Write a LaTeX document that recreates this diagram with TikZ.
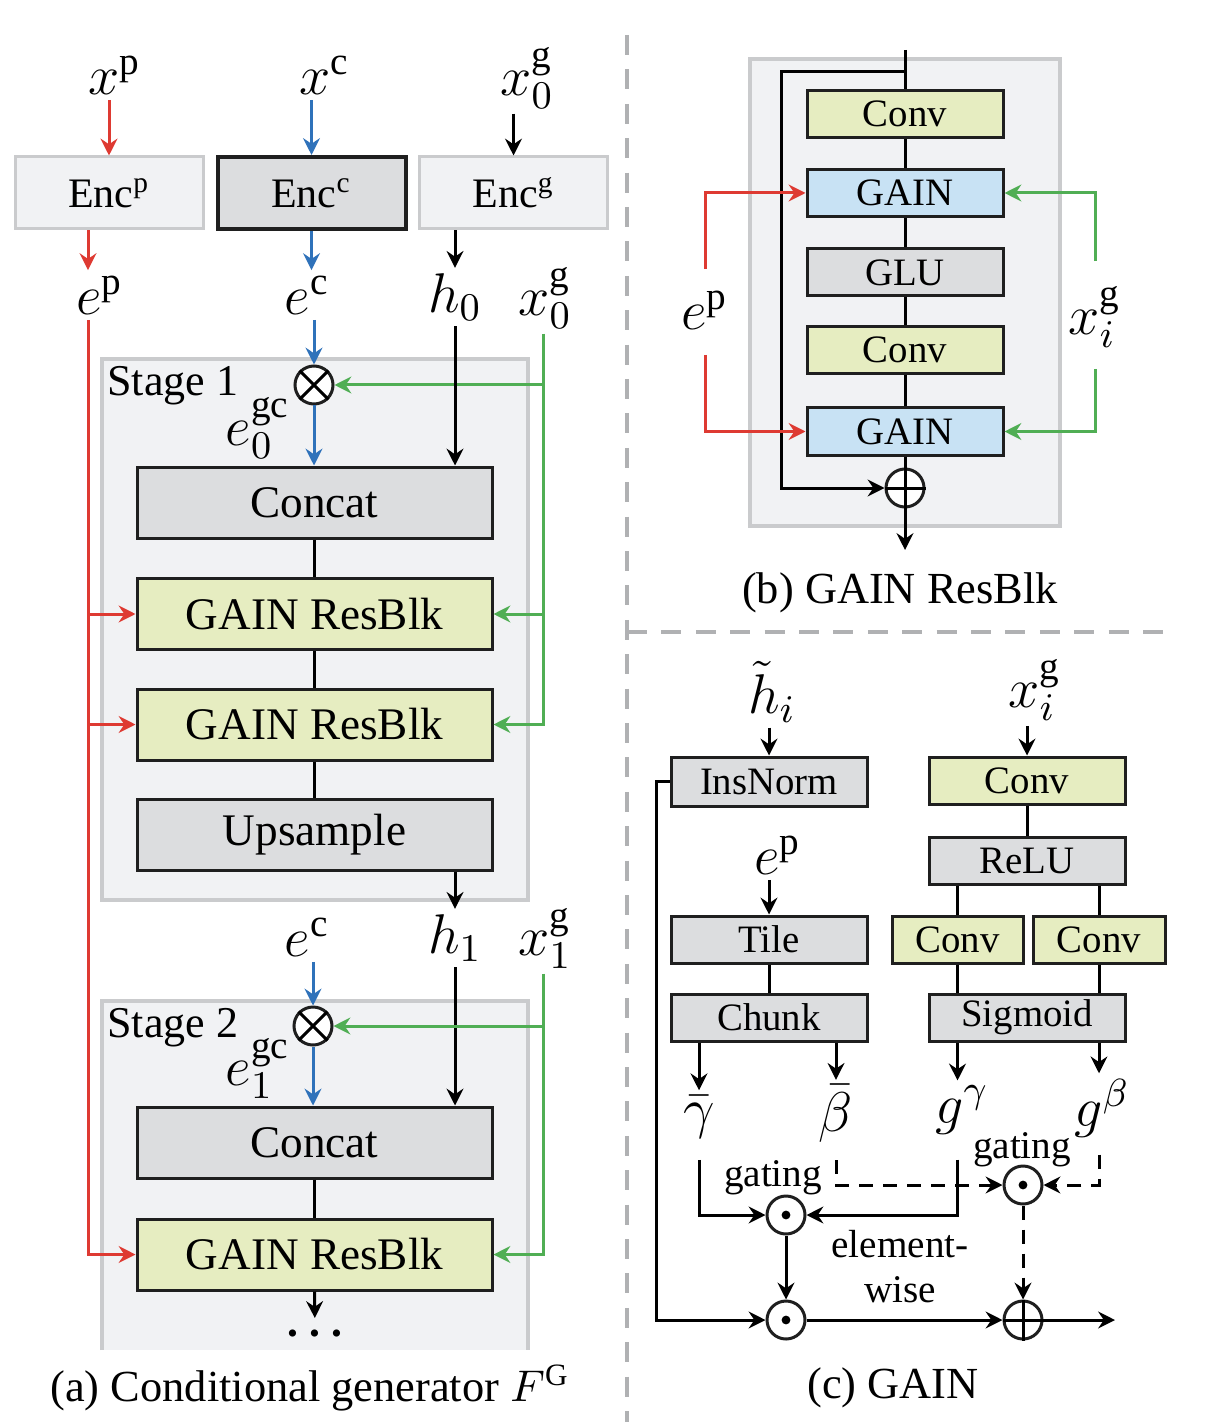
\documentclass[tikz,border=0pt]{standalone}
\usepackage{fix-cm}
\usepackage{fontspec}
\setmainfont{Liberation Serif}
\usetikzlibrary{arrows.meta}

\definecolor{cred}{RGB}{222,58,50}
\definecolor{cblue}{RGB}{47,114,186}
\definecolor{cgreen}{RGB}{80,174,84}
\definecolor{bgray}{RGB}{220,221,223}
\definecolor{pgray}{RGB}{241,242,244}
\definecolor{lgray}{RGB}{202,203,205}
\definecolor{byel}{RGB}{230,237,193}
\definecolor{bblue}{RGB}{200,226,244}
\definecolor{dgray}{RGB}{176,177,179}

\begin{document}
\begin{tikzpicture}[x=0.25pt, y=-0.25pt, line width=0.75pt,
    >={Stealth[length=4.2pt,width=4.2pt,inset=1.4pt]},
    lab/.style={inner sep=1pt, font=\fontsize{14}{16}\selectfont},
    txt/.style={inner sep=0pt, font=\fontsize{9.8}{11.25}\selectfont},
    captxt/.style={inner sep=0pt, font=\fontsize{11.1}{13}\selectfont},
    box/.style={draw=black!88, fill=#1, inner sep=0pt, minimum width=88.75pt, minimum height=17.75pt, font=\fontsize{11.3}{13}\selectfont},
    enc/.style={draw=lgray, fill=pgray, inner sep=0pt, minimum width=47pt, minimum height=18pt, font=\fontsize{10.5}{12}\selectfont},
    sbox/.style={draw=black!88, fill=#1, inner sep=0pt, minimum width=49pt, minimum height=11.75pt, font=\fontsize{9.7}{11}\selectfont},
    op/.style={circle, draw=black!88, fill=white, inner sep=0pt, minimum size=9.5pt},
    panel/.style={draw=lgray, fill=pgray, line width=1pt},
    sep/.style={draw=dgray, line width=1.2pt, dash pattern=on 5pt off 3.6pt},
    dsh/.style={dash pattern=on 3.5pt off 2.5pt}]
\useasboundingbox (0,0) rectangle (1208,1422);

% (a) conditional generator
\fill[pgray] (102,1001) rectangle (528,1350);
\draw[lgray, line width=1pt] (102,1350) -- (102,1001) -- (528,1001) -- (528,1350);
\draw[panel] (102,359) rectangle (528,900);
\coordinate (colr) at (88,0);
\coordinate (colk) at (455,0);
\coordinate (colg) at (543,0);

\node[lab] (xp) at (115,75) {$x^{\mathrm{p}}$};
\node[lab] (xc) at (325,75) {$x^{\mathrm{c}}$};
\node[lab] (xg) at (527,78) {$x_0^{\mathrm{g}}$};
\node[enc] (encp) at (109,193) {Enc$^{\mathrm{p}}$};
\node[enc, fill=bgray, draw=black!88, line width=1pt] (encc) at (311.5,193) {Enc$^{\mathrm{c}}$};
\node[enc] (encg) at (513.5,193) {Enc$^{\mathrm{g}}$};
\node[lab] (ep) at (100,295) {$e^{\mathrm{p}}$};
\node[lab] (ec) at (307,295) {$e^{\mathrm{c}}$};
\node[lab] (h0) at (455,297) {$h_0$};
\node[lab] (xgb) at (545,298) {$x_0^{\mathrm{g}}$};

\node[captxt, anchor=north west, font=\fontsize{11}{13}\selectfont] (s1) at (106,365) {Stage 1};
\node[op] (m1) at (314,385) {};
\draw (m1.north west) -- (m1.south east) (m1.north east) -- (m1.south west);
\node[lab] (eg1) at (258,428) {$e_0^{\mathrm{gc}}$};
\node[box=bgray] (cat1) at (314.5,502.5) {Concat};
\node[box=byel] (ga1) at (314.5,614) {GAIN ResBlk};
\node[box=byel] (ga2) at (314.5,724.5) {GAIN ResBlk};
\node[box=bgray] (up1) at (314.5,834.5) {Upsample};

\node[lab] (ec2) at (307,937) {$e^{\mathrm{c}}$};
\node[lab] (h1) at (455,938) {$h_1$};
\node[lab] (xg1) at (545,938) {$x_1^{\mathrm{g}}$};
\node[captxt, anchor=north west, font=\fontsize{11}{13}\selectfont] (s2) at (106,1007) {Stage 2};
\node[op] (m2) at (313,1026) {};
\draw (m2.north west) -- (m2.south east) (m2.north east) -- (m2.south west);
\node[lab] (eg2) at (258,1068) {$e_1^{\mathrm{gc}}$};
\node[box=bgray] (cat2) at (314.5,1142.5) {Concat};
\node[box=byel] (gr2) at (314.5,1254.5) {GAIN ResBlk};
\node[inner sep=0pt, anchor=north, text height=5.3pt, text depth=0pt, font=\fontsize{17}{19}\selectfont] (dd) at (315,1328) {${\cdot}\hspace{0.9pt}{\cdot}\hspace{0.9pt}{\cdot}$};
\node[captxt] (capa) at (310,1388) {(a) Conditional generator $F^{\mathrm{G}}$};

\draw[cred,->] (encp.north |- xp.south) -- (encp.north);
\draw[cblue,->] (encc.north |- xc.south) -- (encc.north);
\draw[->] (encg.north |- xg.south) -- (encg.north);
\draw[cred,->] (encp.south -| colr) -- (ep.north -| colr);
\draw[cblue,->] (encc.south) -- (ec.north -| encc);
\draw[->] (encg.south -| colk) -- (h0.north -| colk);

\draw[cred,->] (ep.south -| colr) |- (gr2.west);
\draw[cred,->] (ga1.west -| colr) -- (ga1.west);
\draw[cred,->] (ga2.west -| colr) -- (ga2.west);
\draw[cgreen,->] (xgb.south -| colg) |- (ga2.east);
\draw[cgreen,->] (m1 -| colg) -- (m1.east);
\draw[cgreen,->] (ga1.east -| colg) -- (ga1.east);
\draw[cblue,->] (ec.south -| m1) -- (m1.north);
\draw[cblue,->] (m1.south) -- (cat1.north -| m1);
\draw[->] (h0.south -| colk) -- (cat1.north -| colk);
\draw (cat1) -- (ga1) -- (ga2) -- (up1);
\draw[->] (up1.south -| colk) -- (h1.north -| colk);

\draw[cblue,->] (ec2.south -| m2) -- (m2.north);
\draw[cblue,->] (m2.south) -- (cat2.north -| m2);
\draw[->] (h1.south -| colk) -- (cat2.north -| colk);
\draw[cgreen,->] (xg1.south -| colg) |- (gr2.east);
\draw[cgreen,->] (m2 -| colg) -- (m2.east);
\draw (cat2) -- (gr2);
\draw[->, shorten >=2.5pt] (gr2.south) -- (dd.north);

% separators
\draw[sep] (627,35) -- (627,1422);
\draw[sep] (627,632) -- (1175,632);

% (b) GAIN ResBlk
\draw[panel] (750,59) rectangle (1060,526);
\coordinate (bin) at (905,50);
\coordinate (bsk) at (905,72);
\coordinate (bcor) at (781,72);
\coordinate (bout) at (905,550);
\node[sbox=byel] (cv1) at (905,114) {Conv};
\node[sbox=bblue] (gn1) at (905,193) {GAIN};
\node[sbox=bgray] (glu) at (905,272.5) {GLU};
\node[sbox=byel] (cv2) at (905,350) {Conv};
\node[sbox=bblue] (gn2) at (905,431.5) {GAIN};
\node[op] (pb) at (905,488) {};
\draw (pb.north) -- (pb.south) (pb.west) -- (pb.east);
\node[lab] (epb) at (705,310) {$e^{\mathrm{p}}$};
\node[lab] (xib) at (1095,317) {$x_i^{\mathrm{g}}$};
\node[captxt] (capb) at (900,593) {(b) GAIN ResBlk};

\draw (bin) -- (cv1) -- (gn1) -- (glu) -- (cv2) -- (gn2) -- (pb);
\draw[->] (bsk) -- (bcor) |- (pb.west);
\draw[->] (pb.south) -- (bout);
\draw[cred,->,shorten <=4pt] (epb.north) |- (gn1.west);
\draw[cred,->,shorten <=5pt] (epb.south) |- (gn2.west);
\draw[cgreen,->,shorten <=5pt] (xib.north) |- (gn1.east);
\draw[cgreen,->,shorten <=4pt] (xib.south) |- (gn2.east);

% (c) GAIN
\coordinate (csk) at (656,0);
\coordinate (cout) at (1115,1320);
\node[lab] (ht) at (772,692) {$\tilde{h}_i$};
\node[lab] (xic) at (1035,690) {$x_i^{\mathrm{g}}$};
\node[sbox=bgray, minimum height=12.25pt] (ins) at (769,781.5) {InsNorm};
\node[sbox=byel] (cv3) at (1027,780.5) {Conv};
\node[sbox=bgray] (relu) at (1027,860.5) {ReLU};
\node[lab] (epc) at (778,855) {$e^{\mathrm{p}}$};
\node[sbox=bgray] (tile) at (769,939.5) {Tile};
\node[sbox=byel, minimum width=32.75pt] (cl) at (957.5,939.5) {Conv};
\node[sbox=byel, minimum width=33pt] (cr) at (1099,939.5) {Conv};
\node[sbox=bgray] (chk) at (769,1017.5) {Chunk};
\node[sbox=bgray] (sig) at (1027,1017.5) {Sigmoid};
\node[lab] (gb) at (699,1117) {$\bar{\gamma}$};
\node[lab] (bb) at (836,1114) {$\bar{\beta}$};
\node[lab] (gg) at (962,1110) {$g^{\gamma}$};
\node[lab] (gbe) at (1102,1108) {$g^{\beta}$};
\node[op] (o1) at (786,1215) {};
\fill (o1) circle (1.1pt);
\node[op] (o2) at (786,1320) {};
\fill (o2) circle (1.1pt);
\node[op] (o3) at (1023,1185) {};
\fill (o3) circle (1.1pt);
\node[op] (pc) at (1023,1320) {};
\draw (pc.north) -- (pc.south) (pc.west) -- (pc.east);
\node[txt] (gt1) at (773,1178) {gating};
\node[txt] (gt2) at (1022,1150) {gating};
\node[txt, align=center] (ew) at (900,1267) {element-\\wise};
\node[captxt] (capc) at (893,1388) {(c) GAIN};

\draw[->] (ht.south -| ins) -- (ins.north);
\draw[->] (xic.south -| cv3) -- (cv3.north);
\draw[->] (epc.south -| tile) -- (tile.north);
\draw (tile) -- (chk);
\draw (cv3) -- (relu);
\draw (relu.south -| cl) -- (cl.north);
\draw (relu.south -| cr) -- (cr.north);
\draw (cl.south) -- (sig.north -| cl);
\draw (cr.south) -- (sig.north -| cr);
\draw[->] (chk.south -| gb) -- (gb.north);
\draw[->] (chk.south -| bb) -- (bb.north);
\draw[->] (sig.south -| cl) -- (gg.north -| cl);
\draw[->] (sig.south -| cr) -- (gbe.north -| cr);
\draw[->, shorten <=4pt] (gb.south) |- (o1.west);
\draw[->, shorten <=5pt] (gg.south -| cl) |- (o1.east);
\draw[dsh, ->, shorten <=3pt] (bb.south) |- (o3.west);
\draw[dsh, ->, shorten <=3pt] (gbe.south -| cr) |- (o3.east);
\draw[->] (o1) -- (o2);
\draw[dsh, ->] (o3) -- (pc);
\draw[->] (o2) -- (pc);
\draw[->] (pc.east) -- (cout);
\draw[->] (ins.west) -- (ins.west -| csk) |- (o2.west);
\end{tikzpicture}
\end{document}
